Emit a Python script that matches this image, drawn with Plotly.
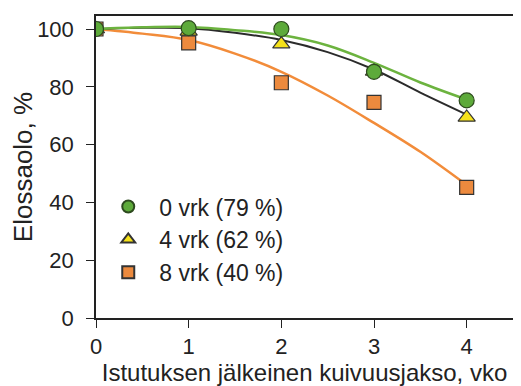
import plotly.graph_objects as go

# mitatut pisteet
viikot = [0, 1, 2, 3, 4]
vrk0 = [100, 100.3, 100, 85.2, 75.3]
vrk4 = [100, 99.2, 94.8, 85.3, 69.4]
vrk8 = [100, 95.2, 81.4, 74.6, 45.2]

# sovitetut käyrät (luettu kuvasta)
kayra_x = [0, 0.5, 1, 1.5, 2, 2.5, 3, 3.5, 4]
kayra0 = [100, 100.6, 100.7, 99.6, 97.9, 94.3, 88.3, 81.5, 75.6]
kayra4 = [100, 100.4, 100.3, 98.7, 96.2, 92, 86, 78, 70.4]
kayra8 = [100, 98.4, 96.2, 91.5, 85.2, 77, 67.5, 57.5, 46]

nimet = ["0 vrk (79 %)", "4 vrk (62 %)", "8 vrk (40 %)"]

fig = go.Figure()

# käyrät ensin, pisteet päälle
fig.add_trace(go.Scatter(x=kayra_x, y=kayra8, mode='lines', line=dict(color='#f28c3a', width=2.5, shape='spline'), showlegend=False))
fig.add_trace(go.Scatter(x=kayra_x, y=kayra4, mode='lines', line=dict(color='#2b2b2b', width=2, shape='spline'), showlegend=False))
fig.add_trace(go.Scatter(x=kayra_x, y=kayra0, mode='lines', line=dict(color='#6cb33f', width=2.5, shape='spline'), showlegend=False))

fig.add_trace(go.Scatter(x=viikot, y=vrk8, mode='markers', name=nimet[2],
                         marker=dict(symbol='square', size=14, color='#ec8a3e', line=dict(color='#333', width=1.2))))
fig.add_trace(go.Scatter(x=viikot, y=vrk4, mode='markers', name=nimet[1],
                         marker=dict(symbol='triangle-up', size=15, color='#f6e21a', line=dict(color='#333', width=1.2))))
fig.add_trace(go.Scatter(x=viikot, y=vrk0, mode='markers', name=nimet[0],
                         marker=dict(symbol='circle', size=15, color='#5daa3a', line=dict(color='#2d4a1e', width=1.2))))

fig.update_layout(
    width=521, height=386,
    margin=dict(l=88, r=9, t=6, b=76),
    paper_bgcolor='white', plot_bgcolor='white',
    font=dict(family='Liberation Sans, Arial, sans-serif', size=21, color='#222'),
    legend=dict(x=0.003, y=0.44, xanchor='left', yanchor='top', traceorder='reversed',
                bgcolor='rgba(0,0,0,0)', font=dict(size=23), itemsizing='constant', itemwidth=52),
    showlegend=True,
)
fig.update_xaxes(range=[0, 4.5], tickvals=[0, 1, 2, 3, 4], showgrid=False, zeroline=False,
                 showline=True, linecolor='#222', linewidth=1.5, mirror=True,
                 ticks='outside', ticklen=8, tickcolor='#222', tickfont=dict(size=22),
                 title=dict(text='Istutuksen jälkeinen kuivuusjakso, vko', standoff=2, font=dict(size=24)))
fig.update_yaxes(range=[0, 104.5], tickvals=[0, 20, 40, 60, 80, 100], showgrid=False, zeroline=False,
                 showline=True, linecolor='#222', linewidth=1.5, mirror='ticks',
                 ticks='outside', ticklen=8, tickcolor='#222', tickfont=dict(size=22),
                 ticklabelstandoff=8,
                 title=dict(text='Elossaolo, %', standoff=4, font=dict(size=26)))

fig.write_html("out.html")
